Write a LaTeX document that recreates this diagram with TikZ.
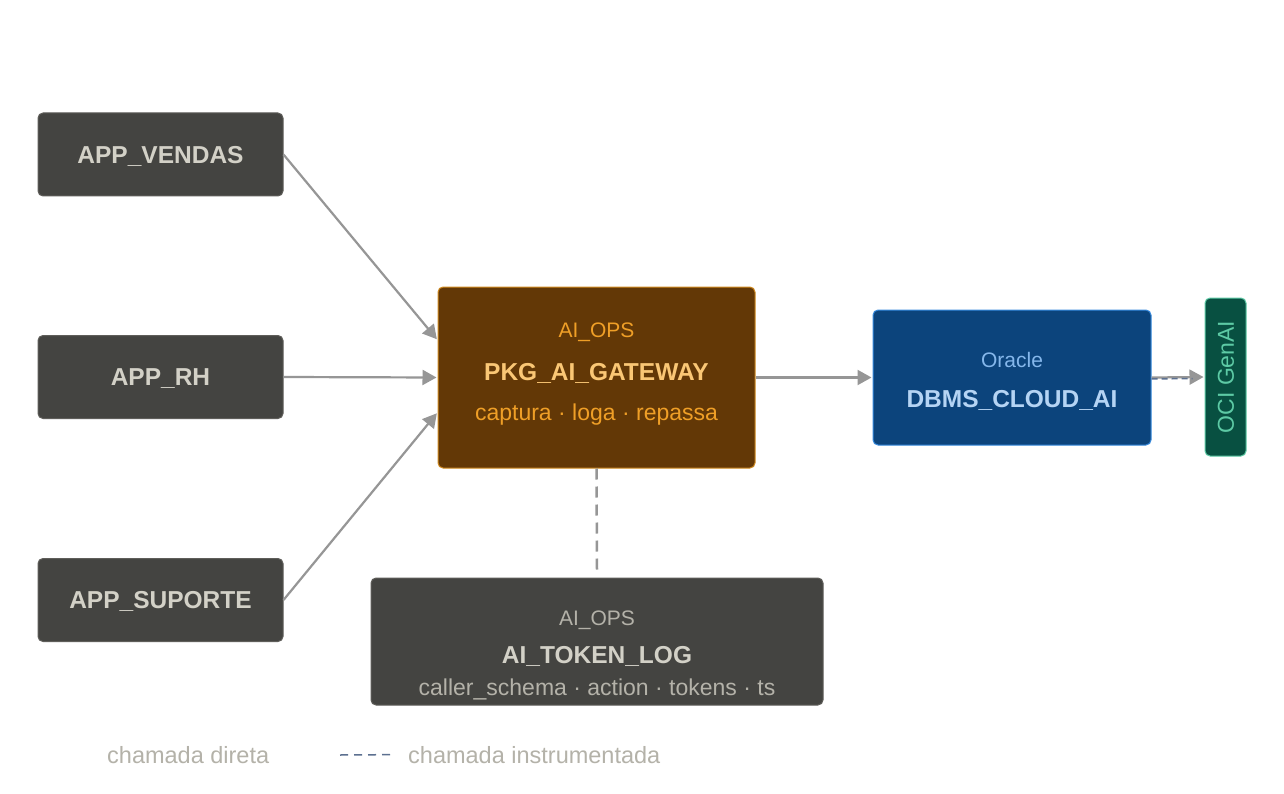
\documentclass[tikz,border=0pt]{standalone}
\usepackage{fontspec}
\setmainfont{Liberation Sans}
\usetikzlibrary{calc,arrows.meta}
\definecolor{appfill}{HTML}{444441}
\definecolor{appline}{HTML}{5F5E5A}
\definecolor{apptext}{HTML}{D3D1C7}
\definecolor{apptext2}{HTML}{B4B2A9}
\definecolor{gwfill}{HTML}{633806}
\definecolor{gwline}{HTML}{D08A20}
\definecolor{gwtext}{HTML}{EF9F27}
\definecolor{gwtitle}{HTML}{FAC775}
\definecolor{oraclefill}{HTML}{0C447C}
\definecolor{oracleline}{HTML}{378ADD}
\definecolor{oracletext}{HTML}{85B7EB}
\definecolor{oracletitle}{HTML}{B5D4F4}
\definecolor{genfill}{HTML}{085041}
\definecolor{genline}{HTML}{5DCAA5}
\definecolor{arrowgray}{HTML}{969696}
\definecolor{legdash}{HTML}{5C7090}

\begin{document}
\begin{tikzpicture}[x=1pt, y=-1pt,
  box/.style={rounded corners=5, line width=1, inner sep=0},
  appbox/.style={box, draw=appline, fill=appfill, minimum width=245, minimum height=83,
    text=apptext, font=\fontsize{24.5}{29}\selectfont\bfseries, text height=17.5, text depth=0},
  small/.style={anchor=base, font=\fontsize{21}{25}\selectfont},
  title/.style={anchor=base, font=\fontsize{24.5}{29}\selectfont\bfseries},
  sub/.style={anchor=base, font=\fontsize{23}{27}\selectfont},
  call/.style={draw=arrowgray, line width=2.2, -{Triangle[length=14pt,width=15pt]}, shorten >=1pt},
  logcall/.style={draw=arrowgray, line width=2.5, dash pattern=on 11pt off 7pt}]
  \useasboundingbox (0,0) rectangle (1284,794);
  \fill[white] (0,0) rectangle (1284,794);

  % Calling schemas
  \node[appbox] (vendas) at (160.5,154.5) {APP\_VENDAS};
  \node[appbox] (rh) at (160.5,377) {APP\_RH};
  \node[appbox] (suporte) at (160.5,600) {APP\_SUPORTE};

  % Gateway package
  \node[box, draw=gwline, fill=gwfill, minimum width=317, minimum height=181] (gateway) at (596.5,377.5) {};
  \node[small, text=gwtext] (gwschema) at ($(gateway)+(0,-40.5)$) {AI\_OPS};
  \node[title, text=gwtitle] (gwname) at ($(gateway)+(0,3)$) {PKG\_AI\_GATEWAY};
  \node[sub, text=gwtext] (gwdesc) at ($(gateway)+(0,42.5)$) {captura · loga · repassa};

  % Oracle package
  \node[box, draw=oracleline, fill=oraclefill, minimum width=278, minimum height=135] (cloudai) at (1012,377.5) {};
  \node[small, text=oracletext] (cloudowner) at ($(cloudai)+(0,-10)$) {Oracle};
  \node[title, text=oracletitle] (cloudname) at ($(cloudai)+(0,30)$) {DBMS\_CLOUD\_AI};

  % Provider
  \node[box, draw=genline, fill=genfill, minimum width=41, minimum height=158] (genai) at (1225.5,377) {};
  \node[rotate=90, text=genline, font=\fontsize{23}{27}\selectfont, text height=16.5, text depth=0,
    inner sep=0] (genlabel) at (genai) {OCI GenAI};

  % Log table
  \node[box, draw=appline, fill=appfill, minimum width=452, minimum height=127] (tokenlog) at (597,641.5) {};
  \node[small, text=apptext2] (logschema) at ($(tokenlog)+(0,-16.5)$) {AI\_OPS};
  \node[title, text=apptext] (logname) at ($(tokenlog)+(0,22)$) {AI\_TOKEN\_LOG};
  \node[sub, text=apptext2] (logcols) at ($(tokenlog)+(0,53.5)$) {caller\_schema · action · tokens · ts};

  % Calls
  \draw[call] (vendas.east) -- ($(gateway.west)+(0,-37.5)$);
  \draw[call] (rh.east) -- (gateway.west);
  \draw[call] (suporte.east) -- ($(gateway.west)+(0,35)$);
  \draw[call] (gateway.east) -- (cloudai.west);
  \draw[call] (cloudai.east) -- (genai.west);
  \draw[legdash, line width=1.5, dash pattern=on 6pt off 4pt] ($(cloudai.east)+(0,1.5)$) -- ($(genai.west)+(-12,1.5)$);
  \draw[logcall] (gateway.south) -- ($(tokenlog.north)+(0,-7)$);

  % Legend
  \node[anchor=base west, text=apptext2, font=\fontsize{23.5}{28}\selectfont, inner sep=0] (legdirect) at (107,763) {chamada direta};
  \coordinate (dashstart) at (340,755);
  \node[anchor=base west, text=apptext2, font=\fontsize{23.5}{28}\selectfont, inner sep=0] (leginstr) at (408,763) {chamada instrumentada};
  \draw[legdash, line width=1.5, dash pattern=on 8pt off 6pt] (dashstart) -- ($(leginstr.west)+(-13,0)$);
\end{tikzpicture}
\end{document}
